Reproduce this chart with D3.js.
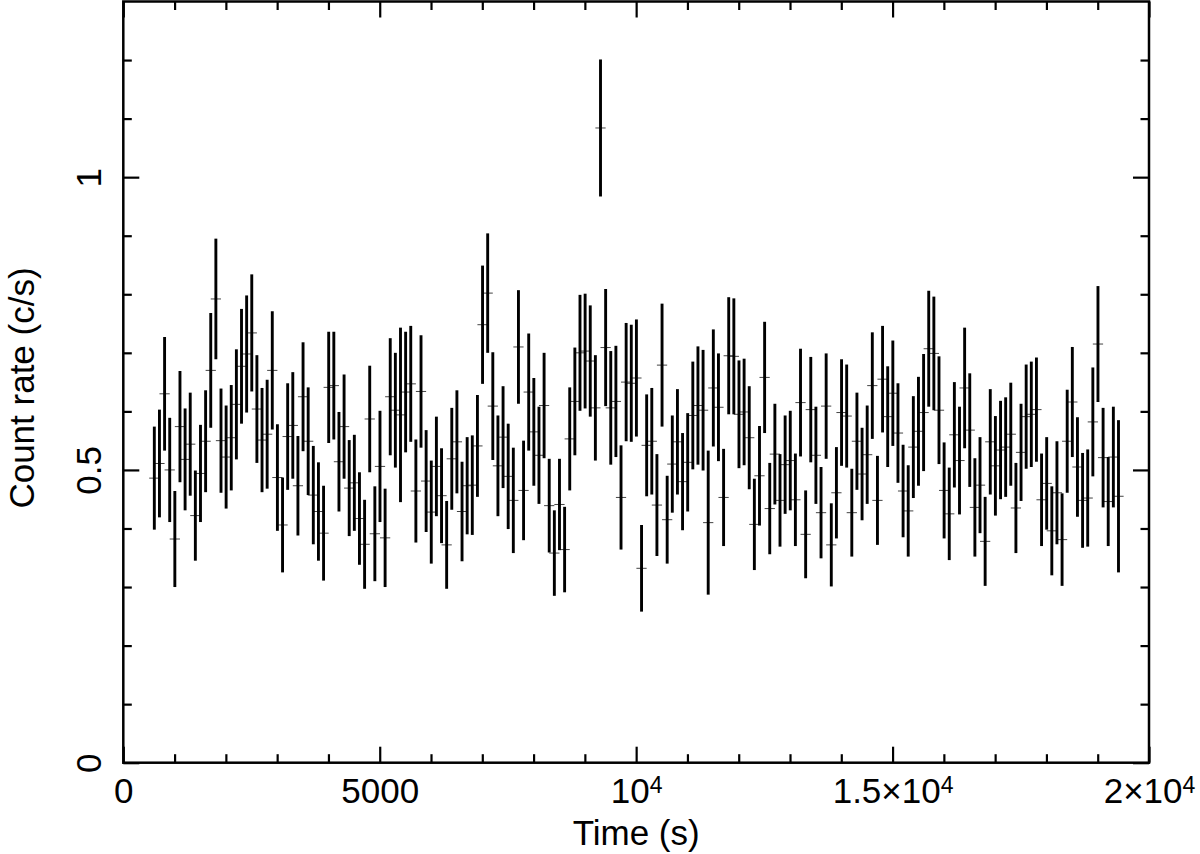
<!DOCTYPE html>
<html>
<head>
<meta charset="utf-8">
<script src="https://cdn.jsdelivr.net/npm/d3@7"></script>
<style>
  html, body { margin: 0; padding: 0; background: #fff; }
  svg { display: block; }
  text { font-family: "Liberation Sans", Arial, Helvetica, sans-serif; fill: #000; }
</style>
</head>
<body>
<svg id="chart" width="1200" height="854"></svg>
<script>
// ---- data (time bin centres in s, count rate in c/s, 1-sigma error) ----
const times = [
  605,705,805,905,1005,1105,1205,1305,1405,1505,
  1605,1705,1805,1905,2005,2105,2205,2305,2405,2505,
  2605,2705,2805,2905,3005,3105,3205,3305,3405,3505,
  3605,3705,3805,3905,4005,4105,4205,4305,4405,4505,
  4605,4705,4805,4905,5005,5105,5205,5305,5405,5505,
  5605,5705,5805,5905,6005,6105,6205,6305,6405,6505,
  6605,6705,6805,6905,7005,7105,7205,7305,7405,7505,
  7605,7705,7805,7905,8005,8105,8205,8305,8405,8505,
  8605,8705,8805,8905,9005,9105,9205,9305,9405,9505,
  9605,9705,9805,9905,10005,10105,10205,10305,10405,10505,
  10605,10705,10805,10905,11005,11105,11205,11305,11405,11505,
  11605,11705,11805,11905,12005,12105,12205,12305,12405,12505,
  12605,12705,12805,12905,13005,13105,13205,13305,13405,13505,
  13605,13705,13805,13905,14005,14105,14205,14305,14405,14505,
  14605,14705,14805,14905,15005,15105,15205,15305,15405,15505,
  15605,15705,15805,15905,16005,16105,16205,16305,16405,16505,
  16605,16705,16805,16905,17005,17105,17205,17305,17405,17505,
  17605,17705,17805,17905,18005,18105,18205,18305,18405,18505,
  18605,18705,18805,18905,19005,19105,19205,19305,19405
];
const rates = [
  0.486,0.511,0.630,0.500,0.382,0.574,0.518,0.544,0.422,0.494,
  0.549,0.670,0.792,0.550,0.522,0.555,0.612,0.677,0.698,0.734,
  0.604,0.551,0.561,0.670,0.487,0.406,0.557,0.576,0.473,0.625,
  0.549,0.457,0.429,0.392,0.641,0.644,0.514,0.574,0.469,0.478,
  0.417,0.373,0.587,0.391,0.506,0.384,0.625,0.602,0.594,0.633,
  0.647,0.464,0.634,0.481,0.428,0.506,0.456,0.372,0.519,0.548,
  0.429,0.473,0.474,0.541,0.748,0.802,0.609,0.507,0.556,0.489,
  0.448,0.710,0.465,0.633,0.565,0.525,0.610,0.439,0.358,0.441,
  0.364,0.553,0.617,0.700,0.703,0.686,0.606,1.084,0.709,0.606,
  0.617,0.453,0.650,0.648,0.657,0.332,0.542,0.549,0.440,0.679,
  0.415,0.510,0.548,0.480,0.513,0.593,0.610,0.602,0.410,0.640,
  0.607,0.453,0.695,0.694,0.595,0.599,0.555,0.407,0.490,0.658,
  0.434,0.527,0.448,0.509,0.516,0.449,0.615,0.390,0.603,0.525,
  0.427,0.609,0.372,0.461,0.598,0.592,0.427,0.549,0.493,0.526,
  0.644,0.448,0.655,0.591,0.631,0.563,0.464,0.430,0.539,0.566,
  0.598,0.707,0.699,0.602,0.465,0.425,0.560,0.516,0.640,0.568,
  0.436,0.474,0.378,0.548,0.507,0.534,0.539,0.561,0.435,0.530,
  0.591,0.595,0.603,0.449,0.477,0.396,0.461,0.381,0.549,0.616,
  0.505,0.448,0.452,0.582,0.715,0.521,0.446,0.522,0.455
];
const errors = [
  0.088,0.092,0.097,0.089,0.082,0.095,0.087,0.088,0.077,0.083,
  0.087,0.098,0.103,0.089,0.088,0.090,0.094,0.098,0.100,0.100,
  0.092,0.089,0.093,0.101,0.091,0.081,0.091,0.091,0.085,0.093,
  0.092,0.084,0.084,0.081,0.095,0.092,0.085,0.089,0.082,0.082,
  0.079,0.076,0.091,0.081,0.095,0.084,0.100,0.098,0.149,0.103,
  0.099,0.088,0.096,0.087,0.088,0.085,0.081,0.075,0.087,0.088,
  0.085,0.083,0.085,0.087,0.101,0.102,0.092,0.086,0.087,0.090,
  0.090,0.097,0.085,0.100,0.092,0.083,0.090,0.080,0.073,0.078,
  0.073,0.088,0.092,0.099,0.098,0.095,0.090,0.117,0.100,0.097,
  0.095,0.089,0.101,0.100,0.100,0.074,0.087,0.091,0.087,0.105,
  0.075,0.083,0.090,0.083,0.084,0.092,0.101,0.103,0.123,0.100,
  0.092,0.083,0.100,0.099,0.092,0.091,0.088,0.078,0.085,0.095,
  0.078,0.086,0.079,0.084,0.085,0.079,0.092,0.075,0.090,0.083,
  0.078,0.090,0.071,0.078,0.091,0.088,0.075,0.083,0.079,0.084,
  0.091,0.076,0.091,0.086,0.090,0.085,0.079,0.078,0.087,0.093,
  0.100,0.099,0.097,0.092,0.082,0.079,0.090,0.092,0.103,0.097,
  0.084,0.082,0.076,0.090,0.085,0.084,0.085,0.088,0.077,0.083,
  0.089,0.090,0.089,0.079,0.079,0.076,0.088,0.079,0.088,0.094,
  0.085,0.081,0.083,0.093,0.099,0.085,0.076,0.086,0.130
];
const halfBin = 100; // horizontal half-width of the time bin marker (s)

const xMajorTicks = [0, 5000, 10000, 15000, 20000];
const xTickLabels = [["0", null], ["5000", null], ["10", "4"], ["1.5×10", "4"], ["2×10", "4"]];
const xMinorTicks = [1000,2000,3000,4000,6000,7000,8000,9000,11000,12000,13000,14000,16000,17000,18000,19000];
const yMajorTicks = [0, 0.5, 1];
const yTickLabels = ["0", "0.5", "1"];
const yMinorTicks = [0.1,0.2,0.3,0.4,0.6,0.7,0.8,0.9,1.1,1.2];
const xTitle = "Time (s)";
const yTitle = "Count rate (c/s)";

// ---- layout ----
const L = 123.3, R = 1149, T = 1.5, B = 762.7;
const svg = d3.select("#chart");
const x = d3.scaleLinear().domain([0, 20000]).range([L, R]);
const y = d3.scaleLinear().domain([0, 1.3]).range([B, T]);

const data = times.map((t, i) => ({ t, r: rates[i], e: errors[i] }));

// data marks
const gData = svg.append("g");
gData.selectAll("line.xe").data(data).enter().append("line")
  .attr("class", "xe")
  .attr("x1", d => x(d.t - halfBin)).attr("x2", d => x(d.t + halfBin))
  .attr("y1", d => y(d.r)).attr("y2", d => y(d.r))
  .attr("stroke", "#444").attr("stroke-width", 1);
gData.selectAll("line.ye").data(data).enter().append("line")
  .attr("class", "ye")
  .attr("x1", d => x(d.t)).attr("x2", d => x(d.t))
  .attr("y1", d => y(d.r - d.e)).attr("y2", d => y(d.r + d.e))
  .attr("stroke", "#000").attr("stroke-width", 2.9);

// axes (ticks pointing inward)
function styleAxis(g) {
  g.select(".domain").remove();
  g.selectAll(".tick line").attr("stroke", "#000").attr("stroke-width", 2.2);
}
const MAJ = 16, MIN = 8.5;
// bottom
svg.append("g").attr("transform", `translate(0,${B})`)
  .call(d3.axisBottom(x).tickValues(xMinorTicks).tickSize(-MIN).tickFormat(""))
  .call(styleAxis);
const gxb = svg.append("g").attr("transform", `translate(0,${B})`)
  .call(d3.axisBottom(x).tickValues(xMajorTicks).tickSize(-MAJ).tickFormat(""))
  .call(styleAxis);
gxb.selectAll(".tick").each(function(d, i) {
  const lab = xTickLabels[i];
  const t = d3.select(this).append("text")
    .attr("x", 0).attr("y", 40.5).attr("text-anchor", "middle")
    .style("font-size", "35px");
  t.append("tspan").text(lab[0]);
  if (lab[1]) t.append("tspan").attr("dy", -10).style("font-size", "23px").text(lab[1]);
});
// top
svg.append("g").attr("transform", `translate(0,${T})`)
  .call(d3.axisTop(x).tickValues(xMinorTicks).tickSize(-MIN).tickFormat(""))
  .call(styleAxis);
svg.append("g").attr("transform", `translate(0,${T})`)
  .call(d3.axisTop(x).tickValues(xMajorTicks).tickSize(-MAJ).tickFormat(""))
  .call(styleAxis);
// left
svg.append("g").attr("transform", `translate(${L},0)`)
  .call(d3.axisLeft(y).tickValues(yMinorTicks).tickSize(-MIN).tickFormat(""))
  .call(styleAxis);
const gyl = svg.append("g").attr("transform", `translate(${L},0)`)
  .call(d3.axisLeft(y).tickValues(yMajorTicks).tickSize(-MAJ).tickFormat(""))
  .call(styleAxis);
gyl.selectAll(".tick").each(function(d, i) {
  d3.select(this).append("text")
    .attr("transform", "translate(-22,0) rotate(-90)")
    .attr("text-anchor", "middle")
    .style("font-size", "35px")
    .text(yTickLabels[i]);
});
// right
svg.append("g").attr("transform", `translate(${R},0)`)
  .call(d3.axisRight(y).tickValues(yMinorTicks).tickSize(-MIN).tickFormat(""))
  .call(styleAxis);
svg.append("g").attr("transform", `translate(${R},0)`)
  .call(d3.axisRight(y).tickValues(yMajorTicks).tickSize(-MAJ).tickFormat(""))
  .call(styleAxis);

// frame
svg.append("rect")
  .attr("x", L).attr("y", T).attr("width", R - L).attr("height", B - T)
  .attr("fill", "none").attr("stroke", "#000").attr("stroke-width", 2.5);

// titles
svg.append("text").attr("x", (L + R) / 2).attr("y", 845)
  .attr("text-anchor", "middle").style("font-size", "35px").text(xTitle);
svg.append("text").attr("transform", `translate(34,388) rotate(-90)`)
  .attr("text-anchor", "middle").style("font-size", "35px").text(yTitle);
</script>
</body>
</html>
